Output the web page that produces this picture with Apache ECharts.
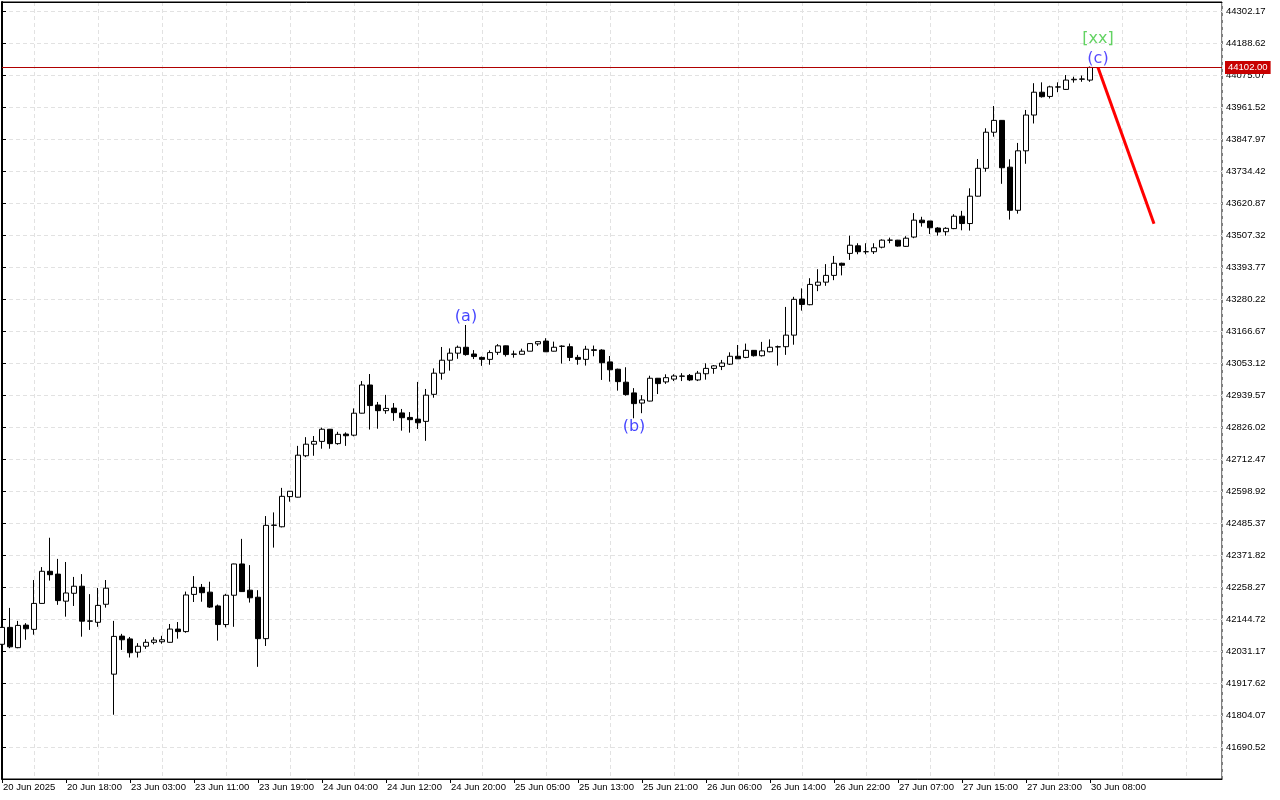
<!DOCTYPE html>
<html>
<head>
<meta charset="utf-8">
<style>
  html, body { margin: 0; padding: 0; background: #ffffff; }
  #chart { width: 1280px; height: 800px; }
</style>
<script src="https://cdn.jsdelivr.net/npm/echarts@6/dist/echarts.min.js"></script>
</head>
<body>
<div id="chart"></div>
<script>
// Time-axis tick labels (one per 8 hourly candles)
const tickLabels = ['20 Jun 2025','20 Jun 18:00','23 Jun 03:00','23 Jun 11:00','23 Jun 19:00','24 Jun 04:00',
  '24 Jun 12:00','24 Jun 20:00','25 Jun 05:00','25 Jun 13:00','25 Jun 21:00','26 Jun 06:00','26 Jun 14:00',
  '26 Jun 22:00','27 Jun 07:00','27 Jun 15:00','27 Jun 23:00','30 Jun 08:00'];
const candlesPerLabel = 8;

const openP = [
  42055,42115,42043,42123,42108,42200,42314,42304,42208,42236,
  42261,42138,42133,42197,41949,42084,42074,42027,42048,42062,
  42064,42062,42109,42100,42232,42257,42240,42191,42125,42229,
  42340,42247,42222,42075,42477,42472,42579,42577,42724,42765,
  42775,42818,42767,42801,42797,42875,42975,42904,42884,42893,
  42876,42860,42854,42846,42942,43017,43063,43088,43109,43085,
  43073,43066,43091,43114,43085,43084,43095,43121,43131,43095,
  43112,43111,43073,43066,43100,43099,43057,43031,42985,42947,
  42911,42918,42999,42986,42996,43006,43009,42993,43015,43034,
  43041,43049,43077,43073,43098,43079,43093,43110,43111,43152,
  43280,43260,43329,43340,43364,43407,43442,43469,43448,43448,
  43464,43489,43489,43467,43500,43560,43557,43532,43519,43530,
  43574,43548,43645,43744,43872,43914,43748,43595,43806,43933,
  44014,43999,44032,44024,44058,44060,44057];
const closeP = [
  42115,42046,42122,42110,42200,42314,42302,42210,42237,42261,
  42137,42137,42193,42254,42083,42071,42025,42048,42062,42070,
  42071,42109,42100,42230,42257,42238,42187,42125,42229,42340,
  42242,42220,42075,42477,42478,42580,42598,42726,42765,42775,
  42818,42767,42800,42795,42875,42975,42902,42884,42892,42877,
  42859,42852,42841,42939,43017,43063,43088,43109,43083,43076,
  43066,43090,43114,43083,43084,43095,43122,43129,43093,43109,
  43113,43073,43066,43102,43098,43054,43029,42987,42941,42909,
  42922,42999,42980,43001,43007,43007,42993,43017,43034,43043,
  43053,43077,43068,43098,43079,43096,43109,43111,43152,43279,
  43261,43332,43340,43364,43407,43400,43471,43448,43448,43462,
  43489,43489,43468,43496,43560,43551,43533,43518,43531,43574,
  43548,43645,43744,43872,43914,43746,43595,43806,43933,44014,
  43998,44033,44033,44057,44060,44061,44102];
const lowP = [
  42052,42041,42041,42071,42089,42199,42281,42195,42153,42191,
  42082,42106,42117,42185,41805,42035,42008,42008,42039,42055,
  42057,42061,42075,42096,42205,42206,42184,42068,42115,42117,
  42241,42203,41975,42049,42398,42470,42561,42576,42719,42724,
  42749,42749,42763,42759,42793,42874,42817,42820,42873,42848,
  42813,42806,42819,42777,42930,42994,43026,43068,43079,43067,
  43043,43047,43082,43076,43072,43083,43095,43114,43092,43094,
  43051,43060,43047,43044,43077,42993,42987,42955,42937,42857,
  42875,42917,42943,42979,42989,42989,42989,42989,42994,43015,
  43028,43046,43068,43070,43076,43076,43091,43044,43082,43118,
  43239,43258,43308,43327,43347,43364,43419,43439,43439,43440,
  43460,43478,43466,43465,43496,43537,43511,43505,43505,43528,
  43524,43523,43644,43732,43856,43689,43562,43583,43760,43903,
  43995,43992,44014,44022,44048,44051,44051];
const highP = [
  42118,42184,42138,42130,42283,42329,42433,42358,42347,42294,
  42304,42233,42255,42283,42138,42092,42081,42059,42073,42080,
  42085,42127,42134,42242,42297,42269,42277,42196,42234,42341,
  42429,42336,42247,42510,42523,42610,42599,42759,42790,42794,
  42824,42819,42809,42807,42892,42989,43014,42915,42940,42911,
  42890,42879,42986,42961,43034,43110,43105,43115,43188,43099,
  43076,43098,43120,43115,43097,43104,43123,43130,43141,43129,
  43116,43122,43082,43114,43115,43102,43078,43033,43038,42964,
  42939,43008,43000,43013,43013,43017,43014,43025,43052,43046,
  43064,43091,43117,43122,43099,43128,43137,43115,43252,43288,
  43318,43354,43386,43404,43433,43409,43505,43478,43478,43478,
  43492,43498,43490,43503,43585,43572,43557,43535,43535,43581,
  43593,43673,43777,43886,43965,43915,43776,43834,43951,44046,
  44049,44037,44049,44075,44069,44073,44105];

const currentPrice = 44102.00;

// Elliott-wave labels (candle index, price)
const waveLabels = ['(a)', '(b)', '(c)', '[xx]'];
const waveX = [58, 79, 137, 137];
const waveY = [43216, 42826, 44132, 44203];
const waveColors = ['#1414ff', '#1414ff', '#2a1aff', '#3cc83c'];

// Forecast line (candle index, price)
const forecastX = [137, 144];
const forecastY = [44102, 43547];

// Price axis
const priceMin = 41576.97, priceMax = 44334.1, priceStep = 113.55;

const FONT = 'Liberation Sans';

const candles = openP.map((o, i) => [i, o, closeP[i], lowP[i], highP[i]]);
const labelIdx = tickLabels.map((_, k) => k * candlesPerLabel);

const chart = echarts.init(document.getElementById('chart'), null, { renderer: 'canvas' });
chart.setOption({
  animation: false,
  backgroundColor: '#ffffff',
  grid: { left: 2, right: 58, top: 2, bottom: 21, show: true, borderColor: '#000', borderWidth: 1, backgroundColor: '#fff', containLabel: false },
  xAxis: [
    {
      type: 'value', min: 0, max: 152.5, interval: 8, position: 'bottom',
      axisLine: { show: true, lineStyle: { color: '#000', width: 1 } },
      axisTick: { show: true, length: 4, lineStyle: { color: '#000' }, customValues: labelIdx },
      axisLabel: {
        show: true, align: 'left', margin: 3, color: '#000', fontSize: 9.5, fontFamily: FONT,
        padding: [0, 0, 0, 1], customValues: labelIdx,
        formatter: function (v) {
          const k = Math.round(v / candlesPerLabel);
          return (k >= 0 && k < tickLabels.length) ? tickLabels[k] : '';
        }
      },
      splitLine: { show: false }
    },
    {
      type: 'value', min: -5, max: 185.625, splitNumber: 19, position: 'top',
      axisLine: { show: true, lineStyle: { color: '#000', width: 1 } }, axisTick: { show: false }, axisLabel: { show: false },
      splitLine: { show: true, lineStyle: { color: '#e2e2e2', type: [4, 3], width: 1 } }
    }
  ],
  yAxis: {
    type: 'value', position: 'right', min: priceMin, max: priceMax, interval: priceStep, scale: true,
    axisLine: { show: true, lineStyle: { color: '#000', width: 2 } },
    axisTick: { show: true, length: 4, lineStyle: { color: '#000' } },
    axisLabel: {
      show: true, margin: 4, color: '#000', fontSize: 9.5, fontFamily: FONT,
      showMinLabel: false, showMaxLabel: false,
      formatter: function (v) { return (v < 41600 || v > 44320) ? '' : v.toFixed(2); }
    },
    splitLine: { show: true, lineStyle: { color: '#e2e2e2', type: [4, 3], width: 1 } }
  },
  series: [
    {
      type: 'candlestick', xAxisIndex: 0, yAxisIndex: 0,
      data: candles, encode: { x: 0, y: [1, 2, 3, 4] },
      barWidth: 5,
      itemStyle: { color: '#ffffff', color0: '#000000', borderColor: '#000000', borderColor0: '#000000', borderWidth: 1 },
      markLine: {
        silent: true, symbol: 'none', animation: false,
        lineStyle: { color: '#b00000', width: 1, type: 'solid' },
        label: {
          show: true, position: 'end', distance: 3, formatter: currentPrice.toFixed(2),
          color: '#fff', backgroundColor: '#c80000', padding: [2, 3, 1, 3], fontSize: 9.5, fontFamily: FONT
        },
        data: [{ yAxis: currentPrice }]
      }
    },
    {
      type: 'line', xAxisIndex: 0, yAxisIndex: 0,
      data: forecastX.map((x, i) => [x, forecastY[i]]),
      symbol: 'none', lineStyle: { color: '#ff0000', width: 3 }, z: 5
    },
    {
      type: 'scatter', xAxisIndex: 0, yAxisIndex: 0, symbolSize: 0, z: 6,
      data: waveX.map((x, i) => ({
        value: [x, waveY[i]],
        label: { show: true, position: 'inside', formatter: waveLabels[i], color: waveColors[i], fontSize: 16, fontFamily: 'DejaVu Sans' }
      }))
    }
  ]
});
</script>
</body>
</html>
